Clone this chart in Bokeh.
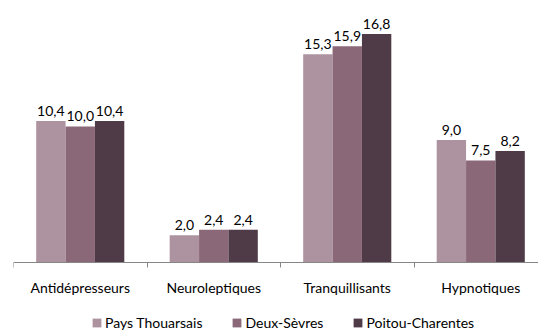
from bokeh.plotting import figure
from bokeh.models import ColumnDataSource, FixedTicker, Legend, LegendItem, LabelSet, Range1d
from bokeh.core.properties import value
from bokeh.embed import file_html
from bokeh.resources import INLINE

categories = ["Antidépresseurs", "Neuroleptiques", "Tranquillisants", "Hypnotiques"]
series_names = ["Pays Thouarsais", "Deux-Sèvres", "Poitou-Charentes"]
pays_thouarsais = [10.4, 2.0, 15.3, 9.0]
deux_sevres = [10.0, 2.4, 15.9, 7.5]
poitou_charentes = [10.4, 2.4, 16.8, 8.2]
colors = ["#AD93A0", "#8A6878", "#4E3B47"]

FONT = "Lato"
centers = [i + 0.5 for i in range(len(categories))]
bar_w = 0.22
offsets = [-bar_w, 0.0, bar_w]

units_per_px = 19.26 / 262
p = figure(width=538, height=332, output_backend="svg", toolbar_location=None,
           x_range=Range1d(0, 525 / 133.5), y_range=Range1d(-70 * units_per_px, 19.26),
           min_border_left=13, min_border_right=0, min_border_top=0, min_border_bottom=0)
p.outline_line_color = None
p.grid.visible = False
p.yaxis.visible = False
p.background_fill_color = "white"

items = []
for name, vals, col, off in zip(series_names, [pays_thouarsais, deux_sevres, poitou_charentes], colors, offsets):
    src = ColumnDataSource(dict(x=[c + off for c in centers], top=vals,
                                lbl=[f"{v:.1f}".replace(".", ",") for v in vals]))
    r = p.vbar(x="x", top="top", width=bar_w, bottom=0, source=src, fill_color=col, line_color=None)
    items.append(LegendItem(label=name, renderers=[r]))
    p.add_layout(LabelSet(x="x", y="top", text="lbl", source=src, y_offset=5,
                          text_align="center", text_baseline="bottom",
                          text_font=value(FONT), text_font_size=value("14px"), text_color="#000000"))

ax = p.xaxis[0]
ax.fixed_location = 0
ax.ticker = FixedTicker(ticks=centers, minor_ticks=[0, 1, 2, 3, 4])
ax.major_label_overrides = {c: lab for c, lab in zip(centers, categories)}
ax.axis_line_color = "#868686"
ax.minor_tick_line_color = "#868686"
ax.minor_tick_out = 5
ax.minor_tick_in = 0
ax.major_tick_out = 0
ax.major_tick_in = 0
ax.major_tick_line_color = None
ax.major_label_standoff = 11
ax.major_label_text_font = FONT
ax.major_label_text_font_size = "14px"
ax.major_label_text_color = "#000000"

legend = Legend(items=items, orientation="horizontal", location=(78, 1),
                glyph_width=11, glyph_height=11, label_standoff=3, spacing=29,
                padding=0, margin=0, border_line_color=None, background_fill_alpha=0,
                label_text_font=FONT, label_text_font_size="14px", label_text_color="#000000")
p.add_layout(legend)

open("out.html", "w").write(file_html(p, INLINE))
